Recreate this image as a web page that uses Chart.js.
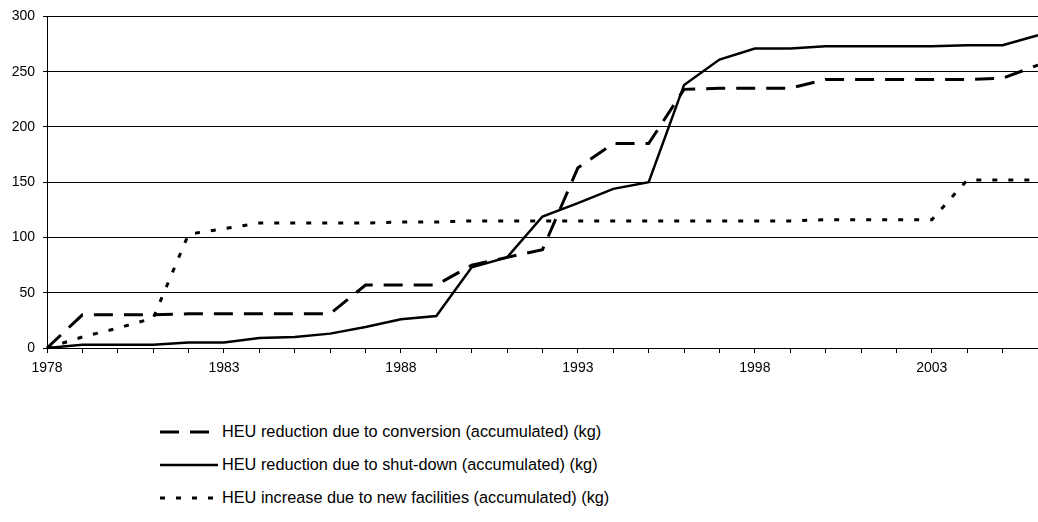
<!DOCTYPE html>
<html>
<head>
<meta charset="utf-8">
<script src="https://cdn.jsdelivr.net/npm/chart.js@4.4.1/dist/chart.umd.min.js"></script>
<style>
  html, body { margin: 0; padding: 0; background: #fff; overflow: hidden; }
  #wrap { position: relative; width: 1038px; height: 522px; overflow: hidden; }
  #box { position: absolute; left: 0; top: 0; width: 1045px; height: 380px; }
  #legend { position: absolute; left: 160px; top: 415px; font-family: "Liberation Sans", Arial, sans-serif; font-size: 16.3px; color: #000; }
  .row { display: flex; align-items: center; height: 33px; }
  .row svg { margin-right: 4px; }
</style>
</head>
<body>
<div id="wrap">
  <div id="box"><canvas id="chart"></canvas></div>
  <div id="legend"></div>
</div>
<script>
  // years on the x axis
  const years = [1978, 1979, 1980, 1981, 1982, 1983, 1984, 1985, 1986, 1987,
    1988, 1989, 1990, 1991, 1992, 1993, 1994, 1995, 1996, 1997,
    1998, 1999, 2000, 2001, 2002, 2003, 2004, 2005, 2006];

  // HEU reduction due to conversion (accumulated) (kg)
  const conversion = [0, 30, 30, 30, 31, 31, 31, 31, 31, 57,
    57, 57, 75, 82, 89, 163, 185, 185, 234, 235,
    235, 235, 243, 243, 243, 243, 243, 244, 256];

  // HEU reduction due to shut-down (accumulated) (kg)
  const shutDown = [0, 3, 3, 3, 5, 5, 9, 10, 13, 19,
    26, 29, 73, 82, 119, 131, 144, 150, 238, 261,
    271, 271, 273, 273, 273, 273, 274, 274, 283];

  // HEU increase due to new facilities (accumulated) (kg)
  const newFacilities = [0, 10, 18, 27, 103, 108, 113, 113, 113, 113,
    114, 114, 115, 115, 115, 115, 115, 115, 115, 115,
    115, 115, 116, 116, 116, 116, 152, 152, 152];

  const yTicks = [0, 50, 100, 150, 200, 250, 300];

  const seriesLabels = [
    'HEU reduction due to conversion (accumulated) (kg)',
    'HEU reduction due to shut-down (accumulated) (kg)',
    'HEU increase due to new facilities (accumulated) (kg)'
  ];

  const font = { family: '"Liberation Sans", Arial, sans-serif', size: 14 };

  const datasets = [
    { label: seriesLabels[0], data: conversion, borderColor: '#000', borderWidth: 3, borderDash: [19, 11] },
    { label: seriesLabels[1], data: shutDown, borderColor: '#000', borderWidth: 2.5, borderDash: [] },
    { label: seriesLabels[2], data: newFacilities, borderColor: '#000', borderWidth: 3, borderDash: [5, 11] }
  ];
  datasets.forEach(d => {
    d.fill = false;
    d.tension = 0;
    d.pointRadius = 0;
    d.borderCapStyle = 'butt';
  });

  new Chart(document.getElementById('chart'), {
    type: 'line',
    data: { labels: years, datasets },
    options: {
      responsive: true,
      maintainAspectRatio: false,
      animation: false,
      layout: { padding: { top: 15, right: 0, bottom: 0, left: 0 } },
      plugins: { legend: { display: false }, tooltip: { enabled: false } },
      scales: {
        x: {
          offset: false,
          grid: { drawOnChartArea: false, drawTicks: true, tickLength: 5, color: '#000', lineWidth: 1 },
          border: { color: '#000', width: 1 },
          ticks: {
            autoSkip: false, maxRotation: 0, color: '#000', font, padding: 7,
            callback: (v, i) => (i % 5 === 0 ? String(years[i]) : '')
          },
          afterFit: s => { s.height = 32; }
        },
        y: {
          min: yTicks[0],
          max: yTicks[yTicks.length - 1],
          grid: { color: '#000', lineWidth: 1, drawTicks: true, tickLength: 4 },
          border: { color: '#000', width: 1 },
          ticks: { stepSize: 50, color: '#000', font, padding: 8 },
          afterFit: s => { s.width = 47; }
        }
      }
    }
  });

  // legend below the chart, one series per row
  const legend = document.getElementById('legend');
  datasets.forEach(d => {
    const row = document.createElement('div');
    row.className = 'row';
    const dash = d.borderDash.length ? ` stroke-dasharray="${d.borderDash.join(' ')}"` : '';
    row.innerHTML = `<svg width="58" height="6"><line x1="0" y1="3" x2="58" y2="3" stroke="#000" stroke-width="${d.borderWidth}"${dash}/></svg><span>${d.label}</span>`;
    legend.appendChild(row);
  });
</script>
</body>
</html>
